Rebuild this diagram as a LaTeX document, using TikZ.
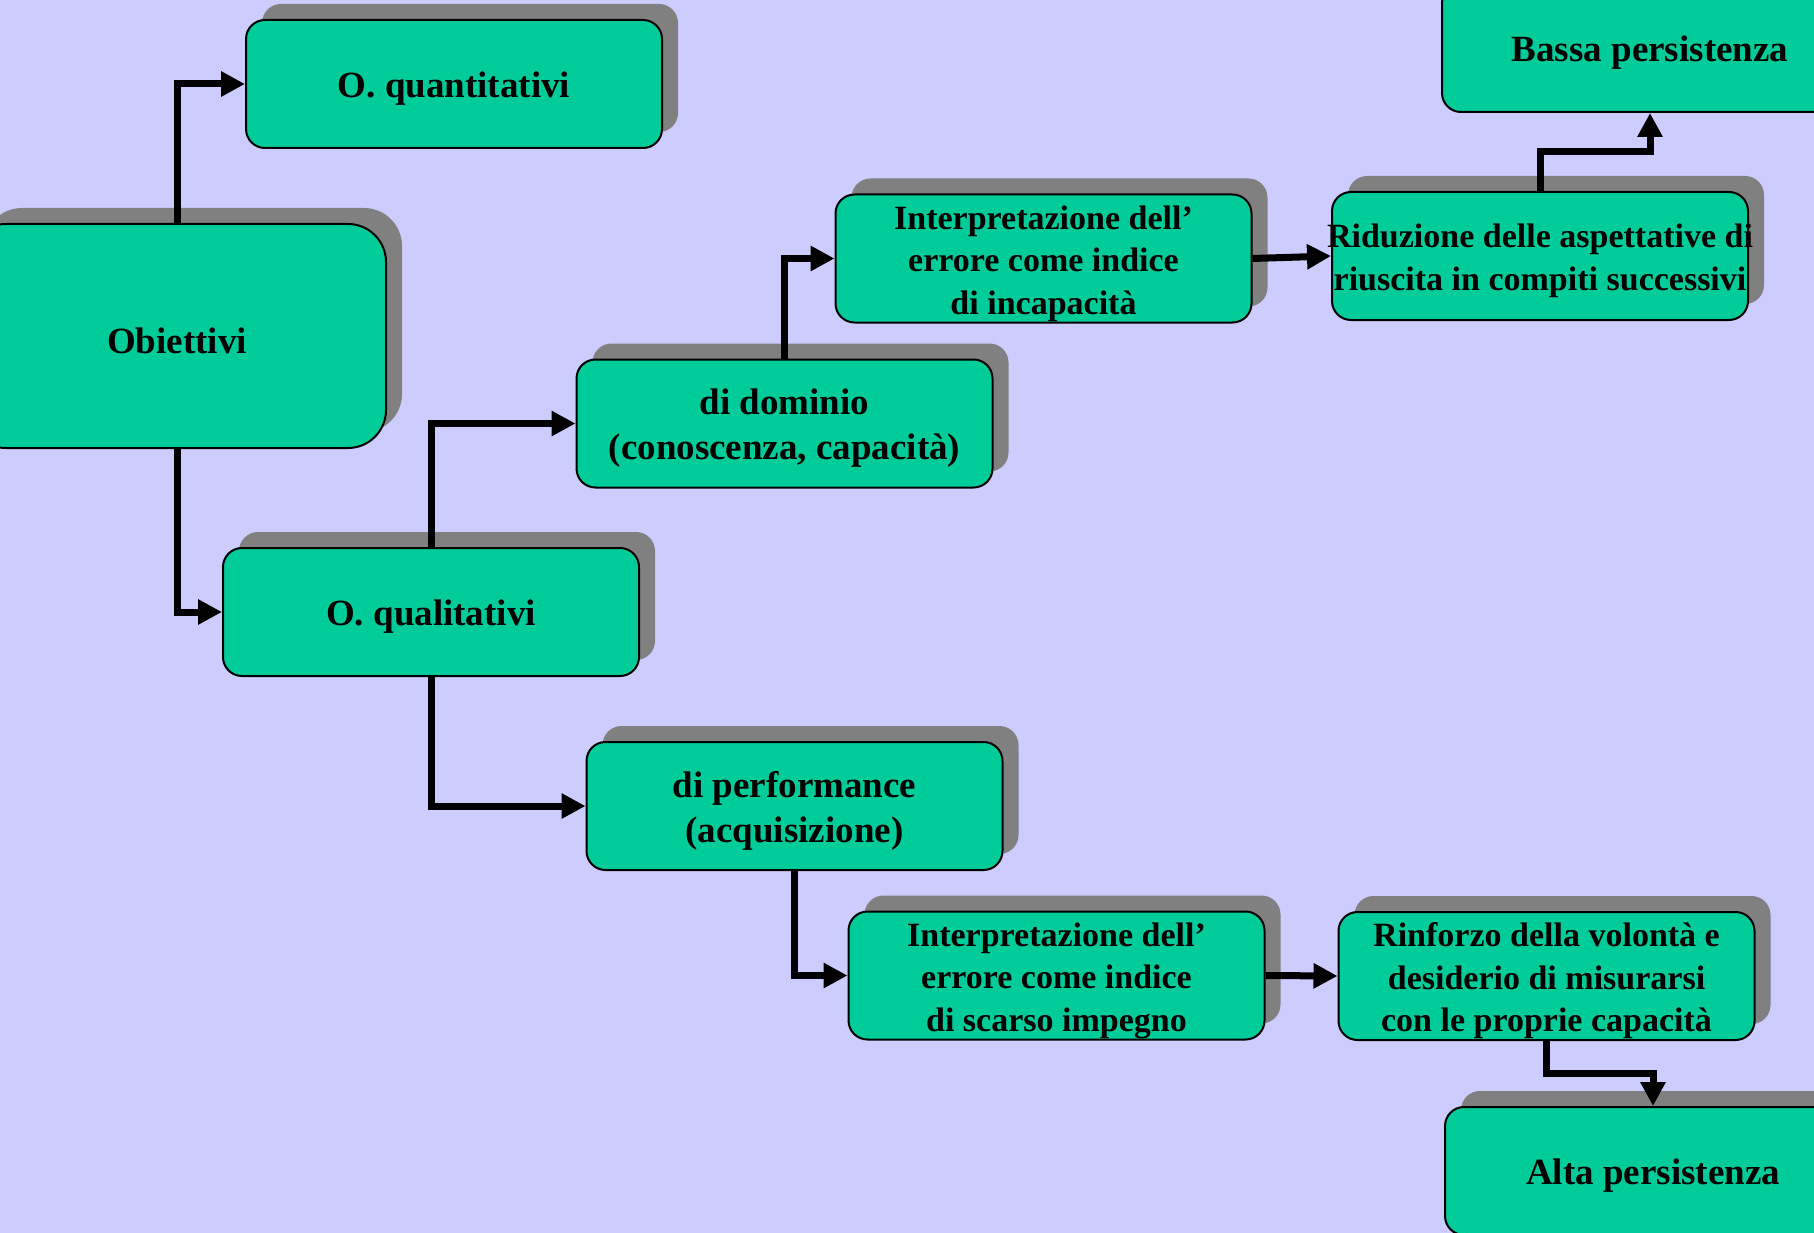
\documentclass[tikz,border=0pt]{standalone}
\usepackage{fontspec}
\setmainfont{Liberation Serif}
\usetikzlibrary{arrows.meta,calc}

\definecolor{bgblue}{RGB}{204,204,255}
\definecolor{boxgreen}{RGB}{0,204,153}
\definecolor{shadowgray}{RGB}{128,128,128}

\tikzset{
  boxshape/.style={rectangle, minimum width=416pt, minimum height=128pt,
    rounded corners=19pt, inner sep=0pt},
  flowbox/.style={boxshape, fill=boxgreen, draw=black, line width=2pt},
  shadowbox/.style={boxshape, fill=shadowgray},
  smalltext/.style={align=center, inner sep=0pt,
    font=\bfseries\fontsize{34}{42.5}\selectfont},
  bigtext/.style={align=center, inner sep=0pt,
    font=\bfseries\fontsize{37}{45}\selectfont},
  conn/.style={line width=7pt, -{Triangle[length=24pt,width=24pt]}},
}

% #1 extra shape options, #2 name, #3 centre, #4 text style, #5 text
\newcommand\drawbox[5][]{%
  \node[shadowbox,#1] at ($(#3)+(16,-16)$) {};
  \node[flowbox,#1] (#2) at (#3) {};
  \node[#4] at ($(#2)+(0,5)$) {#5};
}

\begin{document}
\begin{tikzpicture}[x=1pt,y=-1pt]
  \useasboundingbox (0,0) rectangle (1814,1233);
  \clip (0,0) rectangle (1814,1233);
  \fill[bgblue] (0,0) rectangle (1814,1233);

  \drawbox{oquant}{454,84}{bigtext}{O. quantitativi}
  \drawbox[minimum width=418pt, minimum height=224pt, rounded corners=38pt]
    {obj}{177,336}{bigtext}{Obiettivi}
  \drawbox{oqual}{431,612}{bigtext}{O. qualitativi}
  \drawbox{dom}{784.5,423.5}{bigtext}{di dominio\\(conoscenza, capacità)}
  \drawbox{perf}{794.5,806}{bigtext}{di performance\\(acquisizione)}
  \drawbox{interpA}{1043.5,258.5}{smalltext}{Interpretazione dell’\\errore come indice\\di incapacità}
  \drawbox{rid}{1540,256}{smalltext}{Riduzione delle aspettative di\\riuscita in compiti successivi}
  \drawbox{bassa}{1650,48}{bigtext}{Bassa persistenza}
  \drawbox{interpB}{1056.5,975.5}{smalltext}{Interpretazione dell’\\errore come indice\\di scarso impegno}
  \drawbox{rinf}{1546.5,976}{smalltext}{Rinforzo della volontà e\\desiderio di misurarsi\\con le proprie capacità}
  \drawbox{alta}{1653,1171}{bigtext}{Alta persistenza}

  % connectors
  \draw[conn] (obj.north) |- (oquant.west);
  \draw[conn] (obj.south) |- (oqual.west);
  \draw[conn] (oqual.north) |- (dom.west);
  \draw[conn] (oqual.south) |- (perf.west);
  \draw[conn] (dom.north) |- (interpA.west);
  \draw[conn] (perf.south) |- (interpB.west);
  \draw[conn] (interpA.east) -- (rid.west);
  \draw[conn] (interpB.east) -- (rinf.west);
  \draw[conn] (rid.north) |- ($(rid.north)!0.5!(bassa.south)$) -| (bassa.south);
  \draw[conn] (rinf.south) |- ($(rinf.south)!0.5!(alta.north)$) -| (alta.north);
\end{tikzpicture}
\end{document}
